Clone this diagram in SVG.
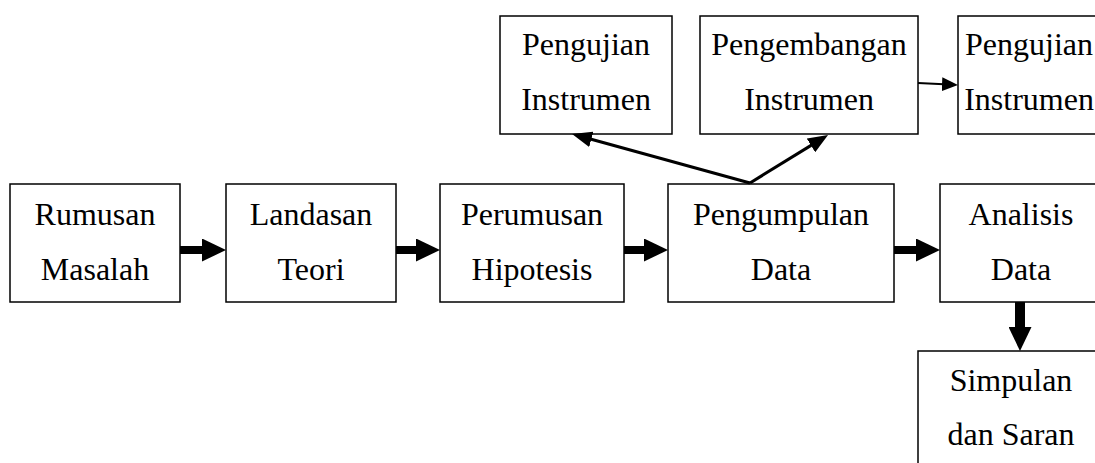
<svg xmlns="http://www.w3.org/2000/svg" width="1095" height="463" viewBox="0 0 1095 463">
  <style>
    .box { fill: #fff; stroke: #000; stroke-width: 1.5; }
    .lbl { font-family: "Liberation Serif", "Times New Roman", serif; font-size: 32px; fill: #000; text-anchor: middle; }
    .thick { stroke: #000; stroke-width: 8; fill: none; }
    .thin { stroke: #000; stroke-width: 3; fill: none; }
    .thinner { stroke: #000; stroke-width: 2; fill: none; }
  </style>
  <defs>
    <marker id="bigHead" markerUnits="userSpaceOnUse" markerWidth="24" markerHeight="23" viewBox="0 0 24 23" refX="1" refY="11.5" orient="auto">
      <path d="M0,0 L24,11.5 L0,23 z" fill="#000"/>
    </marker>
    <marker id="smallHead" markerUnits="userSpaceOnUse" markerWidth="20" markerHeight="16" viewBox="0 0 20 16" refX="2" refY="8" orient="auto">
      <path d="M0,0 L20,8 L0,16 z" fill="#000"/>
    </marker>
    <marker id="tinyHead" markerUnits="userSpaceOnUse" markerWidth="16" markerHeight="14" viewBox="0 0 16 14" refX="2" refY="7" orient="auto">
      <path d="M0,0 L16,7 L0,14 z" fill="#000"/>
    </marker>
  </defs>

  <g id="pengujian-instrumen-1">
    <rect class="box" x="500" y="16" width="172" height="118"/>
    <text class="lbl" x="586" y="55">Pengujian</text>
    <text class="lbl" x="586" y="110">Instrumen</text>
  </g>
  <g id="pengembangan-instrumen">
    <rect class="box" x="700" y="16" width="218" height="118"/>
    <text class="lbl" x="809" y="55">Pengembangan</text>
    <text class="lbl" x="809" y="110">Instrumen</text>
  </g>
  <g id="pengujian-instrumen-2">
    <rect class="box" x="958" y="16" width="142" height="118"/>
    <text class="lbl" x="1029" y="55">Pengujian</text>
    <text class="lbl" x="1029" y="110">Instrumen</text>
  </g>

  <g id="rumusan-masalah">
    <rect class="box" x="10" y="184" width="170" height="118"/>
    <text class="lbl" x="95" y="225">Rumusan</text>
    <text class="lbl" x="95" y="280">Masalah</text>
  </g>
  <g id="landasan-teori">
    <rect class="box" x="226" y="184" width="170" height="118"/>
    <text class="lbl" x="311" y="225">Landasan</text>
    <text class="lbl" x="311" y="280">Teori</text>
  </g>
  <g id="perumusan-hipotesis">
    <rect class="box" x="440" y="184" width="184" height="118"/>
    <text class="lbl" x="532" y="225">Perumusan</text>
    <text class="lbl" x="532" y="280">Hipotesis</text>
  </g>
  <g id="pengumpulan-data">
    <rect class="box" x="668" y="184" width="226" height="118"/>
    <text class="lbl" x="781" y="225">Pengumpulan</text>
    <text class="lbl" x="781" y="280">Data</text>
  </g>
  <g id="analisis-data">
    <rect class="box" x="940" y="184" width="163" height="118"/>
    <text class="lbl" x="1021" y="225">Analisis</text>
    <text class="lbl" x="1021" y="280">Data</text>
  </g>
  <g id="simpulan-saran">
    <rect class="box" x="918" y="351" width="187" height="120"/>
    <text class="lbl" x="1011" y="391">Simpulan</text>
    <text class="lbl" x="1011" y="445">dan Saran</text>
  </g>

  <g id="connectors">
    <line class="thick" x1="180" y1="250" x2="203" y2="250" marker-end="url(#bigHead)"/>
    <line class="thick" x1="396" y1="250" x2="417" y2="250" marker-end="url(#bigHead)"/>
    <line class="thick" x1="624" y1="250" x2="645" y2="250" marker-end="url(#bigHead)"/>
    <line class="thick" x1="894" y1="250" x2="917" y2="250" marker-end="url(#bigHead)"/>
    <line class="thick" style="stroke-width:10" x1="1020" y1="302" x2="1020" y2="328" marker-end="url(#bigHead)"/>
    <line class="thin" x1="750" y1="183" x2="589.4" y2="138.8" marker-end="url(#smallHead)"/>
    <line class="thin" x1="750" y1="183" x2="812.7" y2="144.4" marker-end="url(#smallHead)"/>
    <line class="thinner" x1="918" y1="83" x2="944" y2="84.3" marker-end="url(#tinyHead)"/>
  </g>
</svg>
